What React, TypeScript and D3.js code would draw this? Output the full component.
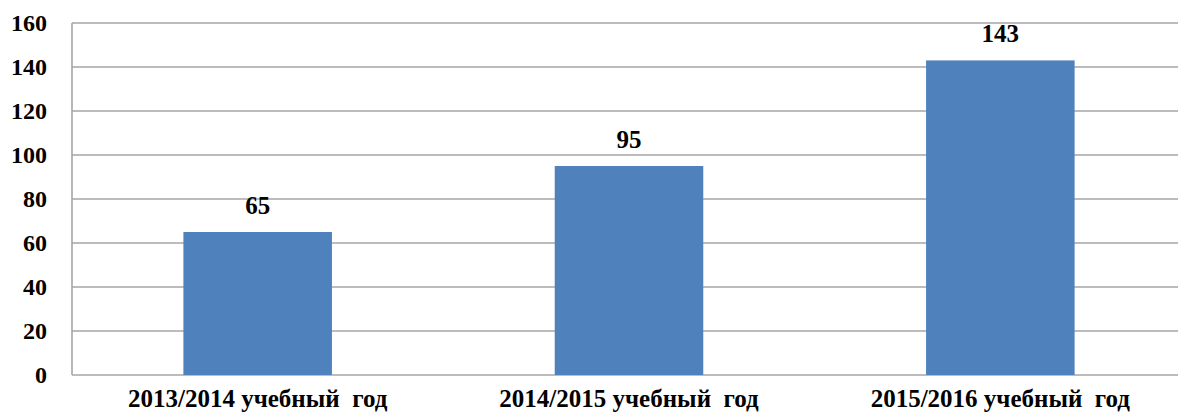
import React from "react";
import * as d3 from "d3";

const categories = [
  "2013/2014 учебный  год",
  "2014/2015 учебный  год",
  "2015/2016 учебный  год",
];
const values = [65, 95, 143];
const yTicks = [0, 20, 40, 60, 80, 100, 120, 140, 160];

const App = () => {
  const width = 1178;
  const height = 417;
  const left = 72;
  const right = 1186;
  const top = 23;
  const bottom = 375;
  const font = "'Liberation Serif', 'Times New Roman', serif";
  const gridColor = "#a6a6a6";

  const xScale = d3
    .scaleBand()
    .domain(categories)
    .range([left, right])
    .paddingInner(0.6)
    .paddingOuter(0.3);
  const yScale = d3.scaleLinear().domain([0, 160]).range([bottom, top]);

  return (
    <svg
      width={width}
      height={height}
      style={{ position: "absolute", left: 0, top: 0, background: "#fff" }}
    >
      {/* gridlines */}
      {yTicks.map((t) => (
        <line
          key={"g" + t}
          x1={left}
          x2={right}
          y1={yScale(t)}
          y2={yScale(t)}
          stroke={gridColor}
          strokeWidth={1.6}
        />
      ))}
      <line x1={left} x2={left} y1={top} y2={bottom} stroke={gridColor} strokeWidth={1.6} />
      {/* y tick labels */}
      {yTicks.map((t) => (
        <text
          key={"t" + t}
          x={47}
          y={yScale(t)}
          dy="0.33em"
          textAnchor="end"
          fontFamily={font}
          fontWeight="bold"
          fontSize={24}
          fill="#000"
        >
          {t}
        </text>
      ))}
      {/* bars */}
      {categories.map((c, i) => (
        <rect
          key={c}
          x={xScale(c)}
          y={yScale(values[i])}
          width={xScale.bandwidth()}
          height={yScale(0) - yScale(values[i])}
          fill="#4f81bd"
        />
      ))}
      {/* value labels */}
      {categories.map((c, i) => (
        <text
          key={"v" + c}
          x={(xScale(c) || 0) + xScale.bandwidth() / 2}
          y={yScale(values[i]) - 18}
          textAnchor="middle"
          fontFamily={font}
          fontWeight="bold"
          fontSize={25}
          fill="#000"
        >
          {values[i]}
        </text>
      ))}
      {/* category labels */}
      {categories.map((c) => (
        <text
          key={"c" + c}
          x={(xScale(c) || 0) + xScale.bandwidth() / 2}
          y={407}
          textAnchor="middle"
          fontFamily={font}
          fontWeight="bold"
          fontSize={25}
          fill="#000"
          style={{ whiteSpace: "pre" }}
        >
          {c}
        </text>
      ))}
    </svg>
  );
};

export default App;
